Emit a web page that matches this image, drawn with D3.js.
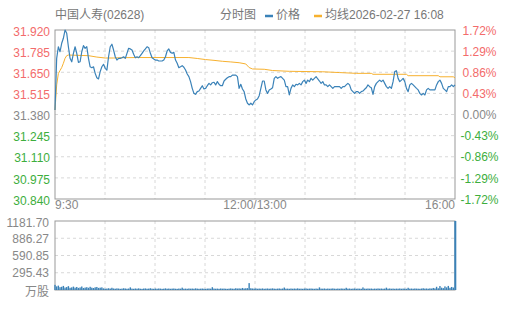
<!DOCTYPE html>
<html>
<head>
<meta charset="utf-8">
<script src="https://cdn.jsdelivr.net/npm/d3@7/dist/d3.min.js"></script>
<style>
  body { margin: 0; background: #fff; }
  svg { font-family: "Liberation Sans", Arial, "Noto Sans CJK SC", sans-serif; }
</style>
</head>
<body>
<div id="chart"></div>
<script>
// ---- data ----
const title = "中国人寿(02628)";
const stamp = "2026-02-27 16:08";
const prevClose = 31.38;
const priceTicks = [30.840, 30.975, 31.110, 31.245, 31.380, 31.515, 31.650, 31.785, 31.920];
const pctTicks = ["-1.72%", "-1.29%", "-0.86%", "-0.43%", "0.00%", "0.43%", "0.86%", "1.29%", "1.72%"];
const volTicks = [295.43, 590.85, 886.27, 1181.70];
const timeLabels = ["9:30", "12:00/13:00", "16:00"];

// minute price, 9:30 -> 16:08
const prices = [
  31.409,31.739,31.813,31.781,31.835,31.867,31.920,31.899,31.813,31.739,
  31.717,31.771,31.813,31.771,31.713,31.717,31.781,31.820,31.803,31.813,
  31.739,31.685,31.679,31.685,31.643,31.615,31.607,31.654,31.685,31.701,
  31.675,31.664,31.749,31.813,31.829,31.792,31.749,31.728,31.739,31.739,
  31.743,31.749,31.739,31.771,31.803,31.799,31.792,31.765,31.743,31.749,
  31.743,31.756,31.771,31.786,31.799,31.813,31.807,31.771,31.743,31.735,
  31.728,31.728,31.722,
  31.722,31.722,31.728,31.749,31.786,31.799,31.777,31.771,31.777,31.728,
  31.707,31.679,31.685,31.692,31.682,31.664,31.639,31.622,31.590,31.547,
  31.515,31.509,31.526,31.530,31.547,31.564,31.543,31.547,31.564,31.579,
  31.569,31.583,31.586,31.569,31.590,31.573,31.564,31.564,31.594,31.605,
  31.615,31.622,31.622,31.632,31.632,31.632,31.622,31.547,31.573,31.543,
  31.526,31.479,31.452,31.441,31.452,31.441,31.462,31.473,31.479,31.500,
  31.547,31.594,31.594,31.537,31.515,31.537,31.543,31.551,31.611,31.622,
  31.611,31.618,31.622,31.611,31.600,31.558,31.558,31.505,31.547,31.569,
  31.558,31.573,31.569,31.579,31.569,31.590,31.600,31.579,31.600,31.590,
  31.611,31.600,31.611,31.622,31.607,31.594,31.579,31.590,31.569,31.569,
  31.558,31.569,31.558,31.547,31.558,31.558,31.558,31.558,31.547,31.558,
  31.558,31.569,31.579,31.569,31.537,31.526,31.515,31.526,31.526,31.515,
  31.526,31.530,31.541,31.551,31.569,31.558,31.551,31.509,31.558,31.579,
  31.590,31.600,31.590,31.600,31.579,31.558,31.547,31.558,31.547,31.590,
  31.654,31.660,31.611,31.590,31.600,31.611,31.590,31.547,31.526,31.569,
  31.579,31.569,31.558,31.547,31.537,31.515,31.505,31.515,31.505,31.537,
  31.547,31.537,31.537,31.537,31.537,31.569,31.590,31.600,31.579,31.547,
  31.537,31.526,31.558,31.558,31.569,31.558,31.569
];

// average line, given at selected minute indexes
const avgIdx = [0, 1, 2, 3, 4, 5, 6, 7, 8, 20, 25, 30, 35, 40, 50, 80, 85, 90, 95, 100, 105, 110, 114, 116, 118,
  125, 130, 140, 160, 170, 180, 189, 190, 210, 211, 229, 230, 238, 239];
const avgVals = [31.409, 31.569, 31.642, 31.661, 31.680, 31.707, 31.739, 31.756, 31.760, 31.756, 31.747, 31.741,
  31.741, 31.743, 31.744, 31.744, 31.738, 31.731, 31.726, 31.720, 31.716, 31.711, 31.703, 31.680, 31.671,
  31.669, 31.661, 31.656, 31.653, 31.648, 31.643, 31.643, 31.637, 31.637, 31.628, 31.628, 31.621, 31.621, 31.614];

// volume in 万股, one per minute
const volumes = [
  88,62,75,48,55,70,42,50,66,38,45,58,40,52,36,44,60,35,42,48,38,55,40,34,46,52,36,40,45,
  28,22,25,30,24,38,26,22,28,25,20,24,30,26,22,25,45,24,21,26,
  23,28,22,20,25,27,22,24,30,23,21,25,22,26,24,20,23,28,22,25,
  21,24,26,22,20,25,23,40,22,24,21,26,23,25,22,28,24,21,23,25,
  22,20,24,26,23,48,25,22,24,21,26,23,25,22,20,24,27,23,22,30,
  25,28,24,35,26,30,32,
  118,
  30,26,24,28,22,25,23,27,21,24,26,22,25,28,23,21,24,26,22,25,
  42,23,24,21,26,22,25,23,28,22,24,21,25,27,22,24,26,23,21,25,
  22,45,24,23,26,21,25,22,24,27,23,21,25,22,26,24,22,38,23,25,
  21,24,26,22,25,23,21,44,24,22,26,23,25,21,24,22,27,23,25,22,
  24,40,23,26,22,25,21,24,23,26,22,25,24,21,38,23,25,22,26,24,
  23,21,25,30,24,26,22,28,25,
  35,28,55,30,68,40,32,62,45,70,38,52,42,
  1181.7
];

// ---- layout ----
const width = 505, height = 310;
const L = 55, R = 455;
const pTop = 30, pBot = 199;
const vTop = 221, vBot = 290;
const blue = "#3a82b8", orange = "#f7b12f";
const red = "#f36b6b", green = "#3dae3d", gray = "#888";

const svg = d3.select("#chart").append("svg")
  .attr("width", width).attr("height", height);

const x = d3.scaleLinear().domain([0, prices.length - 1]).range([L, R]);
const y = d3.scaleLinear().domain([30.84, 31.92]).range([pBot, pTop]);
const yv = d3.scaleLinear().domain([0, 1181.70]).range([vBot, vTop]);

// grid lines
const colX = d3.range(1, 8).map(k => L + (R - L) * k / 8);
function grid(top, bot, rows) {
  const g = svg.append("g").attr("stroke", "#d8d8d8").attr("stroke-dasharray", "3,3");
  colX.forEach(cx => g.append("line").attr("x1", cx).attr("x2", cx).attr("y1", top).attr("y2", bot));
  rows.forEach(ry => g.append("line").attr("x1", L).attr("x2", R).attr("y1", ry).attr("y2", ry));
}
grid(pTop, pBot, priceTicks.slice(1, -1).map(y));
grid(vTop, vBot, volTicks.slice(0, -1).map(yv));

// frames
svg.append("rect").attr("x", L).attr("y", pTop).attr("width", R - L).attr("height", pBot - pTop)
  .attr("fill", "none").attr("stroke", "#999");
svg.append("rect").attr("x", L).attr("y", vTop).attr("width", R - L).attr("height", vBot - vTop)
  .attr("fill", "none").attr("stroke", "#999");

// average line
svg.append("path")
  .datum(avgIdx.map((d, i) => [d, avgVals[i]]))
  .attr("fill", "none").attr("stroke", orange).attr("stroke-width", 1)
  .attr("d", d3.line().x(d => x(d[0])).y(d => y(d[1])));

// price line
svg.append("path")
  .datum(prices)
  .attr("fill", "none").attr("stroke", blue).attr("stroke-width", 1.2)
  .attr("stroke-linejoin", "round")
  .attr("d", d3.line().x((d, i) => x(i)).y(d => y(d)));

// volume bars
svg.append("g").selectAll("rect")
  .data(volumes)
  .join("rect")
  .attr("x", (d, i) => x(i) - 0.7)
  .attr("width", (d, i) => i === volumes.length - 1 ? 2 : 1.4)
  .attr("y", d => yv(d))
  .attr("height", d => vBot - yv(d))
  .attr("fill", blue);

// left price labels
svg.append("g").selectAll("text")
  .data(priceTicks)
  .join("text")
  .attr("x", 50).attr("y", d => y(d) + 2.5)
  .attr("text-anchor", "end").attr("dominant-baseline", "middle")
  .attr("font-size", 12)
  .attr("fill", d => Math.abs(d - prevClose) < 1e-6 ? gray : (d > prevClose ? red : green))
  .text(d => d.toFixed(3));

// right percentage labels
svg.append("g").selectAll("text")
  .data(pctTicks)
  .join("text")
  .attr("x", 479.5).attr("y", (d, i) => y(priceTicks[i]) + 1.5)
  .attr("text-anchor", "middle").attr("dominant-baseline", "middle")
  .attr("font-size", 12)
  .attr("fill", (d, i) => Math.abs(priceTicks[i] - prevClose) < 1e-6 ? gray : (priceTicks[i] > prevClose ? red : green))
  .text(d => d);

// time labels
const tIdx = [0, (prices.length - 1) / 2, prices.length - 1];
svg.append("g").selectAll("text")
  .data(timeLabels)
  .join("text")
  .attr("x", (d, i) => x(tIdx[i]))
  .attr("y", 206)
  .attr("text-anchor", (d, i) => ["start", "middle", "end"][i])
  .attr("dominant-baseline", "middle")
  .attr("font-size", 12).attr("fill", gray)
  .text(d => d);

// volume labels
svg.append("g").selectAll("text")
  .data(volTicks)
  .join("text")
  .attr("x", 49).attr("y", (d, i) => yv(d) + (i === volTicks.length - 1 ? 2.5 : 1.5))
  .attr("text-anchor", "end").attr("dominant-baseline", "middle")
  .attr("font-size", 12).attr("fill", gray)
  .text(d => d.toFixed(2));
svg.append("text")
  .attr("x", 49).attr("y", vBot + 3)
  .attr("text-anchor", "end").attr("dominant-baseline", "middle")
  .attr("font-size", 12).attr("fill", gray)
  .text("万股");

// header
const head = svg.append("g").attr("font-size", 12).attr("fill", "#777");
head.append("text").attr("x", 55).attr("y", 15.5).attr("dominant-baseline", "middle").text(title);
head.append("text").attr("x", 220).attr("y", 15.5).attr("dominant-baseline", "middle").text("分时图");
head.append("line").attr("x1", 265).attr("x2", 273).attr("y1", 16).attr("y2", 16)
  .attr("stroke", blue).attr("stroke-width", 2.5);
head.append("text").attr("x", 276).attr("y", 15.5).attr("dominant-baseline", "middle").text("价格");
head.append("line").attr("x1", 314).attr("x2", 322).attr("y1", 16).attr("y2", 16)
  .attr("stroke", orange).attr("stroke-width", 2.5);
head.append("text").attr("x", 325).attr("y", 15.5).attr("dominant-baseline", "middle").text("均线" + stamp);
</script>
</body>
</html>
